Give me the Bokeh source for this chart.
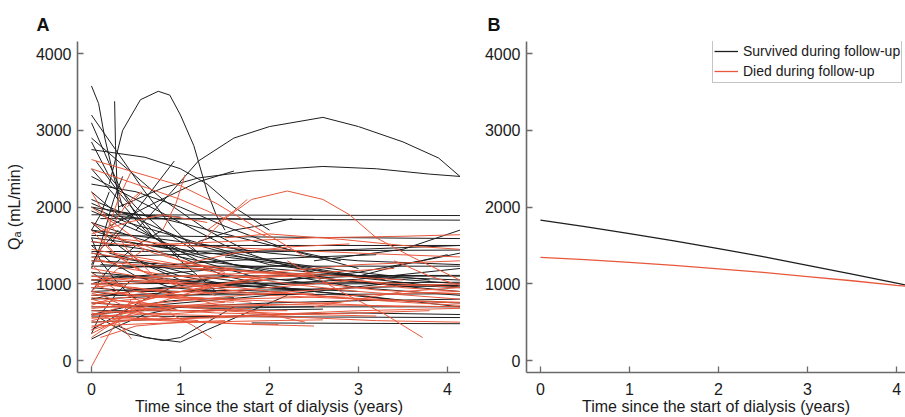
from bokeh.plotting import figure
from bokeh.layouts import row
from bokeh.models import (ColumnDataSource, FixedTicker, Range1d, Title, Legend, LegendItem)
from bokeh.embed import file_html
from bokeh.resources import INLINE

# ---------------- data ----------------
x_ticks = [0, 1, 2, 3, 4]
y_ticks = [0, 1000, 2000, 3000, 4000]

# Panel A: individual fitted trajectories (time in years, Qa in mL/min)
survived_curves = [
    [(0, 1900), (4.14, 1890)],
    [(0.1, 1850), (2.0, 1840), (4.14, 1830)],
    [(0, 1630), (2, 1610), (4.14, 1590)],
    [(0, 1500), (4.14, 1500)],
    [(0, 1420), (4.14, 1440)],
    [(0, 1230), (4.14, 1230)],
    [(0, 1100), (4.14, 1110)],
    [(0, 1000), (4.14, 1020)],
    [(0, 850), (4.14, 870)],
    [(0, 700), (4.14, 700)],
    [(0, 580), (4.14, 560)],
    [(1.8, 490), (4.14, 480)],
    [(0, 1300), (1, 1250), (2, 1150), (3, 1020), (4.14, 900)],
    [(0, 1050), (1, 1000), (2, 1000), (3, 1060), (4.14, 1200)],
    [(2.5, 1300), (3.5, 1450), (4.14, 1700)],
    [(0, 900), (1, 950), (2, 1050), (3, 1100), (4.14, 1100)],
    [(0.5, 700), (1.5, 800), (2.5, 900), (3.3, 1000)],
    [(0, 1600), (1, 1450), (2, 1300), (3, 1150), (3.8, 1050)],
    [(0, 1700), (1, 1550), (2, 1400), (3, 1300), (4.14, 1250)],
    [(0.2, 1400), (1.2, 1100), (2.5, 900), (3.5, 780), (4.14, 750)],
    [(0, 600), (1, 700), (2, 750), (3, 780), (4.14, 800)],
    [(0, 500), (1, 550), (2, 600), (3, 620), (4.14, 600)],
    [(0.3, 1200), (1.5, 1300), (2.5, 1350), (3.2, 1380)],
    [(0, 3580), (0.08, 3350), (0.15, 2900), (0.25, 2400), (0.35, 2000)],
    [(0.26, 3380), (0.27, 2800), (0.29, 2200), (0.31, 1900)],
    [(0, 3200), (0.3, 2700), (0.6, 2200), (0.9, 1750), (1.2, 1400)],
    [(0, 2900), (0.4, 2500), (0.8, 2100), (1.3, 1700), (1.8, 1400)],
    [(0, 2750), (0.6, 2650), (1.0, 2500), (1.3, 2300), (1.6, 2000), (2.0, 1700)],
    [(0, 2850), (0.2, 2400), (0.5, 2000), (0.8, 1700), (1.2, 1400)],
    [(0, 3100), (0.15, 2700), (0.3, 2300), (0.5, 1900), (0.7, 1600)],
    [(0, 2300), (0.5, 2200), (1.0, 2000), (1.5, 1750), (2.2, 1450), (3, 1200)],
    [(0, 2100), (0.6, 1800), (1.2, 1500), (2, 1250), (3, 1100)],
    [(0, 2000), (0.8, 1850), (1.5, 1650), (2.2, 1450), (2.8, 1300)],
    [(0.2, 1500), (0.5, 1950), (0.93, 2600)],
    [(0.2, 1750), (0.7, 2050), (1.2, 2330), (1.6, 2470)],
    [(0, 2400), (0.5, 2100), (1, 1800), (1.5, 1500), (2, 1300), (2.5, 1150)],
    [(0, 2200), (0.3, 1900), (0.7, 1600), (1.2, 1300), (1.8, 1100), (2.5, 1000)],
    [(0, 2000), (0.4, 1800), (1, 1600), (1.6, 1400), (2.5, 1200), (3.3, 1050)],
    [(0, 1800), (0.5, 1600), (1.2, 1350), (2, 1150), (3, 950), (4.14, 850)],
    [(0.05, 2600), (0.3, 2200), (0.6, 1800), (1.0, 1300), (1.4, 900)],
    [(0, 1700), (0.1, 1900), (0.2, 2200)],
    [(0, 1200), (0.1, 1500), (0.25, 2100), (0.35, 2400)],
    [(0, 900), (0.2, 1200), (0.5, 1500), (0.8, 1700)],
    [(0, 400), (0.3, 600), (0.6, 800), (1, 1000), (1.5, 1100)],
    [(0.1, 550), (0.4, 350), (0.8, 260), (1.0, 300), (1.3, 500), (1.6, 700)],
    [(0.3, 450), (0.6, 300), (1.0, 240), (1.3, 400), (1.7, 600), (2.2, 850)],
    [(0, 280), (0.3, 450), (0.6, 600), (1, 700)],
    [(0, 1400), (0.5, 1300), (1.0, 1100), (1.5, 1000), (2, 950), (3, 900)],
    [(0, 1550), (0.6, 1450), (1.2, 1300), (2, 1200), (3, 1100), (4.14, 1000)],
    [(0.1, 1250), (1, 1200), (2, 1150), (3, 1100), (4.14, 1050)],
    [(0, 800), (1, 850), (2, 900), (3, 950), (4.14, 980)],
    [(0, 950), (0.5, 900), (1, 900), (2, 920), (2.8, 940)],
    [(0, 750), (0.7, 700), (1.4, 680), (2.5, 700)],
    [(0, 650), (1, 650), (2, 660), (2.6, 670)],
    [(1.2, 1550), (1.6, 1700), (2.0, 1780), (2.25, 1850)],
    [(0.1, 1900), (0.6, 1850), (1.5, 1850), (2.5, 1840)],
    [(0, 2050), (0.2, 1950), (0.5, 1900), (1, 1870)],
    [(3.0, 1100), (3.5, 1250), (4.14, 1400)],
    [(2.2, 1050), (3, 1150), (3.7, 1300), (4, 1380)],
    [(0, 1150), (1, 1050), (2, 950), (3, 850), (4.14, 700)],
    [(0, 1350), (1.5, 1400), (3, 1450), (4.14, 1500)],
    [(0, 1050), (0.5, 1100), (1.0, 1150), (1.5, 1200), (2.2, 1240)],
    [(0, 900), (0.3, 850), (0.8, 880), (1.5, 950), (2.3, 1000), (3.2, 1000), (4.14, 980)],
    [(0, 1000), (0.3, 1100), (0.8, 1050), (1.5, 980), (2.5, 920)],
    [(0, 1150), (0.2, 1000), (0.5, 920), (1, 900), (1.8, 920)],
    [(0, 600), (0.4, 700), (0.9, 780), (1.6, 820)],
    [(0, 1800), (0.3, 1500), (0.6, 1250), (1, 1050), (1.5, 950)],
    [(0, 1500), (0.2, 1300), (0.5, 1100), (0.9, 950), (1.4, 900)],
    [(0, 2500), (0.3, 2100), (0.6, 1700), (1.0, 1350), (1.5, 1100), (2.0, 980)],
    [(0, 1950), (0.5, 1700), (1, 1450), (1.6, 1250), (2.4, 1100), (3.2, 1000), (4.14, 950)],
    [(0, 1600), (0.1, 1300), (0.3, 1000), (0.5, 800)],
    [(0, 350), (0.1, 600), (0.3, 900), (0.5, 1100)],
    [(0, 1250), (0.1, 1450), (0.3, 1700)],
    [(0, 800), (0.5, 920), (1.2, 1000), (2, 1050)],
    [(1.5, 1350), (2.2, 1250), (3, 1080), (3.8, 980), (4.14, 960)],
    [(0, 1700), (0.4, 1550), (0.9, 1450)],
    [(0.2, 2300), (0.35, 3000), (0.55, 3400), (0.75, 3510), (0.88, 3460),
     (1.0, 3200), (1.15, 2800), (1.3, 2200), (1.4, 1900), (1.5, 1700)],
    [(0.5, 1700), (0.9, 2200), (1.2, 2600), (1.6, 2900), (2.0, 3050), (2.6, 3170),
     (3.0, 3050), (3.5, 2850), (3.9, 2640), (4.14, 2400)],
    [(0.3, 2000), (0.8, 2250), (1.2, 2380), (1.8, 2470), (2.6, 2530), (3.2, 2500),
     (3.8, 2430), (4.14, 2400)],
]

died_curves = [
    [(1.2, 1500), (1.5, 1850), (1.8, 2100), (2.2, 2210), (2.6, 2100), (2.9, 1900),
     (3.2, 1600), (3.6, 1350), (4.14, 1050)],
    [(0, 2620), (0.5, 2450), (1.0, 2280), (1.4, 2050), (1.9, 1700), (2.4, 1350)],
    [(0, 2500), (0.5, 2300), (1.0, 2100), (1.5, 1850), (2, 1600)],
    [(0.15, 1600), (0.3, 2100), (0.44, 2450)],
    [(0.8, 1700), (0.95, 2050), (1.05, 2420)],
    [(0.4, 2000), (0.57, 2200)],
    [(0, 1650), (0.4, 1800), (0.8, 1900), (1.3, 1800)],
    [(0, 1200), (1, 1000), (2, 850), (3, 800), (4.14, 750)],
    [(0, 900), (0.5, 850), (1.5, 800), (2.5, 750), (3.5, 700)],
    [(0, 700), (1, 720), (2, 730), (3, 720), (4.14, 700)],
    [(0, 500), (1, 550), (2, 600), (3, 650), (4.14, 680)],
    [(0, 1400), (0.6, 1300), (1.4, 1150), (2.2, 1000), (3, 900), (4.14, 800)],
    [(0, 1000), (0.5, 950), (1, 850), (1.5, 700), (2, 600), (2.4, 500)],
    [(0, 600), (0.4, 650), (1, 700), (1.5, 700)],
    [(0, 800), (0.3, 700), (0.7, 650), (1.2, 650), (1.8, 680)],
    [(0, 1100), (0.4, 1050), (1, 1000), (1.6, 950)],
    [(0, 1300), (0.5, 1250), (1.2, 1200), (2, 1150), (2.8, 1100), (3.5, 1050)],
    [(0.2, 1600), (1, 1500), (2, 1450), (3, 1400), (4.14, 1350)],
    [(0, 1550), (0.5, 1500), (1.5, 1550), (2.5, 1600), (3.5, 1620), (4.14, 1640)],
    [(2.2, 1300), (2.8, 900), (3.3, 600), (3.72, 300)],
    [(0, -80), (0.2, 350), (0.45, 800)],
    [(0, 400), (0.3, 500), (0.8, 600), (1.4, 650), (2.2, 650)],
    [(0.1, 300), (0.5, 450), (1, 500), (1.5, 520)],
    [(0, 1800), (0.3, 1600), (0.7, 1400), (1.2, 1250), (1.8, 1150), (2.5, 1100)],
    [(0, 2000), (0.3, 1750), (0.6, 1500), (1, 1300), (1.5, 1150)],
    [(0.05, 1300), (0.2, 1700), (0.4, 2050), (0.55, 2200)],
    [(0, 750), (0.5, 800), (1, 850), (1.5, 900), (2, 950), (2.5, 1000), (3, 1050)],
    [(0, 650), (0.8, 600), (1.6, 580), (2.4, 560), (3.2, 520), (4.14, 500)],
    [(0, 550), (0.3, 600), (0.6, 700), (1, 850), (1.5, 1000), (2, 1100)],
    [(0.3, 700), (1, 900), (1.7, 1050), (2.5, 1150)],
    [(1.5, 1600), (2, 1650), (2.8, 1580), (3.5, 1500), (4.14, 1450)],
    [(0, 1450), (0.5, 1350), (1, 1250), (1.6, 1200)],
    [(0, 350), (0.25, 500), (0.5, 650)],
    [(0.9, 600), (1.15, 450), (1.35, 290)],
    [(0.3, 500), (0.45, 280)],
    [(2, 900), (2.5, 850), (3, 800), (3.5, 760), (4.14, 720)],
    [(1.2, 1200), (2, 1150), (2.8, 1050), (3.5, 1000), (4.14, 950)],
    [(0, 1050), (1, 1100), (2, 1150), (3, 1250), (4.14, 1300)],
    [(0, 450), (0.6, 480), (1.2, 500), (2.0, 520), (2.6, 530)],
    [(0, 850), (0.5, 900), (1, 950), (1.5, 1000), (2, 1050)],
    [(1.3, 1700), (1.6, 1950), (1.75, 2100)],
    [(2.5, 700), (3, 800), (3.5, 900), (4.14, 950)],
    [(0, 950), (0.4, 1000), (1, 1050), (1.8, 1100), (2.6, 1150), (3.4, 1200)],
    [(0.1, 600), (0.5, 550), (1, 520), (1.8, 470), (2.5, 450)],
    [(3.0, 1050), (3.5, 950), (4.14, 900)],
    [(0, 1150), (0.3, 900), (0.6, 750), (1, 650)],
    [(0, 620), (0.3, 560), (0.8, 540), (1.5, 560), (2.3, 600)],
    [(0, 720), (0.2, 800), (0.6, 850), (1.2, 820), (1.8, 760)],
    [(0, 880), (0.3, 780), (0.7, 720), (1.3, 700), (2, 720), (2.8, 760)],
    [(0, 520), (0.4, 620), (0.9, 700), (1.5, 760)],
    [(0, 430), (0.2, 520), (0.5, 600), (0.9, 620)],
    [(0.05, 980), (0.3, 880), (0.8, 820), (1.5, 800), (2.3, 820), (3.2, 860), (4.14, 900)],
    [(0, 1250), (0.2, 1050), (0.5, 900), (1, 800), (1.6, 760)],
    [(0, 820), (0.5, 760), (1, 700), (1.6, 640), (2.4, 600), (3.2, 580)],
    [(0, 680), (0.5, 720), (1.2, 800), (2, 880), (2.8, 940), (3.6, 980), (4.14, 1000)],
    [(0, 580), (0.2, 650), (0.5, 760), (0.9, 880), (1.3, 950)],
    [(0.1, 1050), (0.4, 950), (0.9, 900), (1.6, 880), (2.5, 870)],
    [(0, 300), (0.15, 420), (0.35, 560), (0.6, 680)],
    [(0, 1700), (0.2, 1450), (0.5, 1200), (0.9, 1000), (1.4, 850)],
    [(0, 760), (0.6, 680), (1.4, 620), (2.2, 600), (3, 620), (3.8, 650)],
    [(0, 1000), (0.6, 1050), (1.3, 1000), (2, 900), (2.8, 820), (3.6, 780), (4.14, 760)],
    [(0.2, 800), (0.5, 640), (0.8, 560), (1.2, 520)],
    [(0, 900), (0.2, 1100), (0.4, 1300), (0.6, 1450)],
    [(1.0, 1250), (1.6, 1400), (2.2, 1480), (2.9, 1520)],
    [(2.6, 1000), (3.2, 920), (3.8, 880), (4.14, 870)],
    [(0, 1350), (0.4, 1200), (0.9, 1100), (1.6, 1080), (2.4, 1100)],
    [(0, 560), (0.8, 520), (1.6, 480), (2.1, 470)],
    [(0.1, 1600), (0.3, 1350), (0.6, 1150), (1.0, 1000)],
    [(0, 2200), (0.2, 1800), (0.4, 1450), (0.7, 1100)],
    [(3.4, 1300), (3.8, 1100), (4.14, 980)],
]

# Panel B: mean trajectories
mean_t = [0, 0.5, 1, 1.5, 2, 2.5, 3, 3.5, 4, 4.14]
survived_mean = [1830, 1745, 1655, 1560, 1460, 1355, 1240, 1125, 1010, 975]
died_mean = [1345, 1315, 1280, 1240, 1195, 1150, 1095, 1040, 980, 965]

legend_labels = ["Survived during follow-up", "Died during follow-up"]
panel_letters = ["A", "B"]
x_label = "Time since the start of dialysis (years)"
y_label = "Q\u2090 (mL/min)"

# ---------------- style ----------------
BLACK = "#1e1e1e"
RED = "#e8583c"
AXIS = "#6a6a6a"
FONT = "Liberation Sans"


def curves_source(curves):
    return ColumnDataSource(dict(
        xs=[[pt[0] for pt in c] for c in curves],
        ys=[[pt[1] for pt in c] for c in curves],
    ))


def style(p, ylabel):
    p.xaxis.ticker = FixedTicker(ticks=x_ticks)
    p.yaxis.ticker = FixedTicker(ticks=y_ticks)
    p.xgrid.visible = False
    p.ygrid.visible = False
    p.outline_line_color = None
    for ax in (p.xaxis[0], p.yaxis[0]):
        ax.axis_line_color = AXIS
        ax.axis_line_width = 1.6
        ax.major_tick_line_color = AXIS
        ax.major_tick_line_width = 1.3
        ax.major_tick_in = 6
        ax.major_tick_out = 0
        ax.minor_tick_line_color = None
        ax.major_label_text_font = FONT
        ax.major_label_text_font_size = "16px"
        ax.major_label_text_color = "#1a1a1a"
        ax.axis_label_text_font = FONT
        ax.axis_label_text_font_size = "16px"
        ax.axis_label_text_font_style = "normal"
        ax.axis_label_text_color = "#1a1a1a"
    p.xaxis.major_label_standoff = 10
    p.xaxis.axis_label_standoff = 0
    p.yaxis.major_label_standoff = 6
    p.yaxis.axis_label_standoff = 10
    p.xaxis.axis_label = x_label
    if ylabel:
        p.yaxis.axis_label = ylabel


def letter(p, text, offset):
    p.add_layout(Title(text=text, align="left", offset=offset, standoff=14,
                       text_font=FONT, text_font_size="18px", text_font_style="bold",
                       text_color="#111111"), "above")


# ---------------- panel A ----------------
pA = figure(width=460, height=417, output_backend="svg", toolbar_location=None,
            x_range=Range1d(-0.157, 4.146), y_range=Range1d(-156, 4159),
            min_border_left=77, min_border_right=0, min_border_top=41,
            min_border_bottom=45, background_fill_color="white")
style(pA, y_label)
pA.multi_line("xs", "ys", source=curves_source(survived_curves), line_color=BLACK,
              line_width=1.0)
pA.multi_line("xs", "ys", source=curves_source(died_curves), line_color=RED,
              line_width=1.0)
letter(pA, panel_letters[0], -41)

# ---------------- panel B ----------------
pB = figure(width=445, height=417, output_backend="svg", toolbar_location=None,
            x_range=Range1d(-0.157, 4.10), y_range=Range1d(-156, 4159),
            min_border_left=66, min_border_right=0, min_border_top=41,
            min_border_bottom=45, background_fill_color="white")
style(pB, None)
rs = pB.line(mean_t, survived_mean, line_color=BLACK, line_width=1.3)
rd = pB.line(mean_t, died_mean, line_color=RED, line_width=1.3)
letter(pB, panel_letters[1], -39)

legend = Legend(items=[LegendItem(label=legend_labels[0], renderers=[rs]),
                       LegendItem(label=legend_labels[1], renderers=[rd])],
                location=(186, 289), orientation="vertical",
                label_text_font=FONT, label_text_font_size="14px",
                label_text_color="#1a1a1a",
                glyph_width=24, glyph_height=20, label_height=20,
                label_standoff=5, padding=1, spacing=0, margin=0,
                border_line_color="#8a8a8a", border_line_width=1,
                background_fill_color="white", background_fill_alpha=1.0)
pB.add_layout(legend)

layout = row(pA, pB)
open("out.html", "w").write(file_html(layout, INLINE))
